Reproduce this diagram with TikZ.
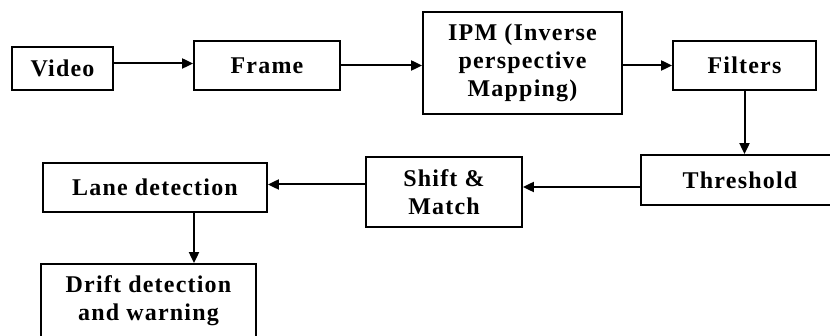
\documentclass[tikz,border=0pt]{standalone}
\usepackage{fontspec}
\usepackage{tikz}
\usetikzlibrary{arrows.meta}
\newfontfamily\boxfont[LetterSpace=5]{Liberation Serif}

\begin{document}
\begin{tikzpicture}[x=1pt,y=-1pt,
    box/.style={draw,line width=1.8pt,inner sep=0pt,align=center,
      font=\boxfont\bfseries\fontsize{24}{28}\selectfont},
    arr/.style={line width=2pt,-{Triangle[length=11pt,width=10pt]}}]
    \path[use as bounding box,clip] (0,0) rectangle (830,336);
    \fill[white] (0,0) rectangle (830,336);
    \node[box,minimum width=101pt,minimum height=43pt] (video) at (62.5,68.5) {Video};
    \node[box,minimum width=146pt,minimum height=49pt] (frame) at (267,65.5) {Frame};
    \node[box,minimum width=199pt,minimum height=102pt] (ipm) at (522.5,63) {IPM (Inverse\\perspective\\Mapping)};
    \node[box,minimum width=143pt,minimum height=49pt] (filters) at (744.5,65.5) {Filters};
    \node[box,minimum width=198pt,minimum height=50pt] (threshold) at (740,180) {Threshold};
    \node[box,minimum width=156pt,minimum height=70pt] (shift) at (444,192) {Shift \&\\Match};
    \node[box,minimum width=224pt,minimum height=49pt] (lane) at (155,187.5) {Lane detection};
    \node[box,minimum width=215pt,minimum height=74pt] (drift) at (148.5,301) {Drift detection\\and warning};
    \draw[arr] ([yshift=5pt]video.east) -- ([yshift=5pt]video.east -| frame.west);
    \draw[arr] (frame.east) -- (frame.east -| ipm.west);
    \draw[arr] (filters.west -| ipm.east) -- (filters.west);
    \draw[arr] (filters.south) -- (filters.south |- threshold.north);
    \draw[arr] ([yshift=-7pt]threshold.west) -- ([yshift=-7pt]threshold.west -| shift.east);
    \draw[arr] ([yshift=3pt]lane.east -| shift.west) -- ([yshift=3pt]lane.east);
    \draw[arr] ([xshift=39pt]lane.south) -- ([xshift=39pt]lane.south |- drift.north);
\end{tikzpicture}
\end{document}
